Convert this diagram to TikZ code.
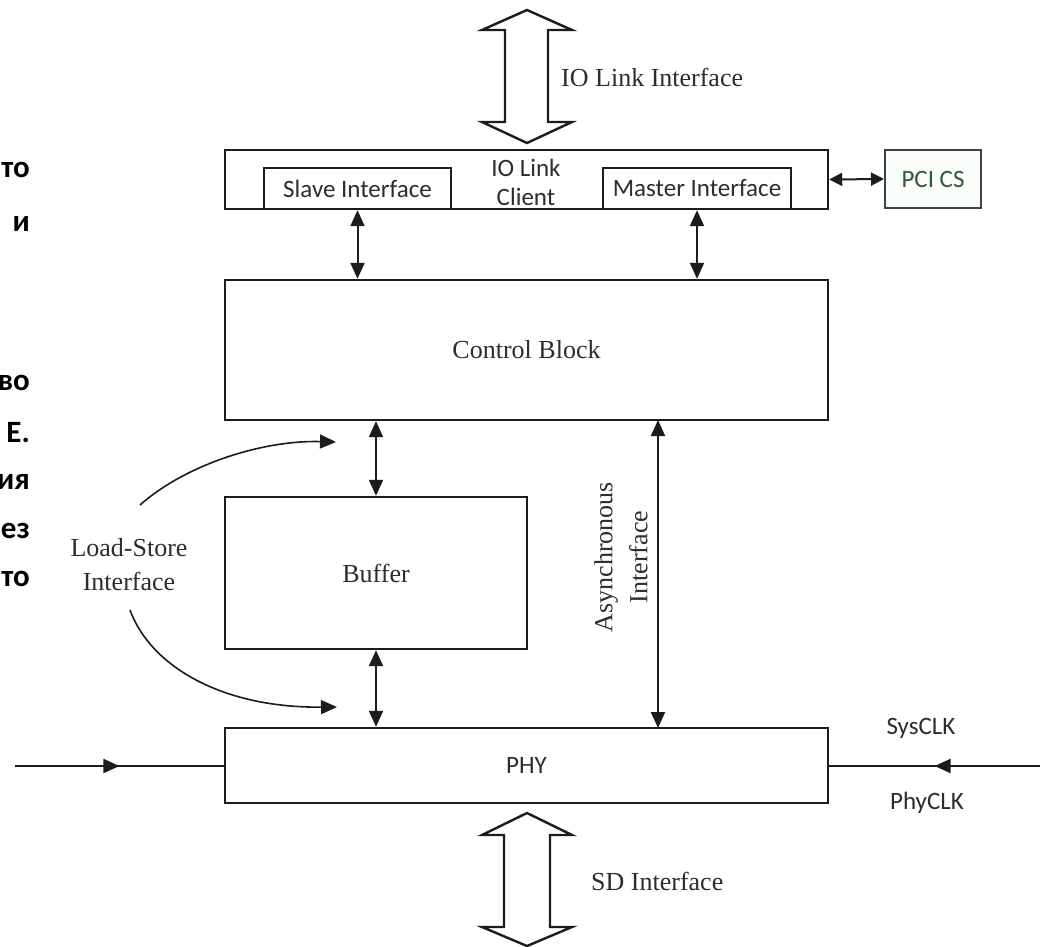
\documentclass[tikz,border=0pt]{standalone}
\usepackage{fontspec}
\setmainfont{Liberation Serif}
\newfontfamily\calfont{Carlito}
\usetikzlibrary{arrows.meta,decorations.markings}
\definecolor{ink}{RGB}{28,28,28}
\definecolor{txt}{RGB}{45,45,45}
\definecolor{pcigreen}{RGB}{50,88,62}
\definecolor{pciframe}{RGB}{60,70,64}
\definecolor{pcifill}{RGB}{250,253,250}
\begin{document}
\begin{tikzpicture}[x=1pt,y=-1pt,
  box/.style={draw=ink, line width=2.4pt, inner sep=0pt},
  serif/.style={text=txt, font=\fontsize{26}{34}\selectfont, inner sep=0pt},
  sans/.style={text=txt, font=\calfont\fontsize{25}{29}\selectfont, inner sep=0pt},
  cyr/.style={font=\calfont\bfseries\fontsize{31}{40}\selectfont, inner sep=0pt, anchor=base east, text=black},
  dbl/.style={line width=2pt, draw=ink, {Triangle[length=16pt,width=14pt]}-{Triangle[length=16pt,width=14pt]}},
  sdbl/.style={line width=2pt, draw=ink, {Triangle[length=13pt,width=13pt]}-{Triangle[length=13pt,width=13pt]}},
  curvarr/.style={line width=1.6pt, draw=ink, -{Triangle[length=16pt,width=14pt]}},
  hollow/.style={draw=ink, line width=2.4pt, fill=white, line join=miter},
  midarr/.style={line width=2pt, draw=ink, decoration={markings, mark=at position #1 with {\arrow{Triangle[length=16pt,width=14pt]}}}, postaction={decorate}}
]
\useasboundingbox (0,0) rectangle (1044,947);
\clip (0,0) rectangle (1044,947);
\fill[white] (0,0) rectangle (1044,947);

% Cyrillic text fragments at the left edge (cropped in the source)
\node[cyr] (c1) at (30,178) {то};
\node[cyr] (c2) at (30,231) {и};
\node[cyr] (c3) at (30,390) {во};
\node[cyr] (c4) at (30,442) {Е.};
\node[cyr] (c5) at (30,489) {ия};
\node[cyr] (c6) at (30,538) {ез};
\node[cyr] (c7) at (30,586) {то};

% boxes
\node[box, minimum width=603pt, minimum height=59pt] (client) at (526.5,179.5) {};
\node[box, sans, minimum width=187pt, minimum height=41pt] (slave) at (357.5,188.5) {Slave Interface};
\node[box, sans, minimum width=188pt, minimum height=41pt] (master) at (697,188.5) {Master Interface};
\node[sans, align=center] (clienttext) at (526,182) {IO Link\\Client};
\node[draw=pciframe, line width=2pt, fill=pcifill, text=pcigreen, font=\calfont\fontsize{25}{29}\selectfont, inner sep=0pt, minimum width=96pt, minimum height=58pt] (pci) at (933,179) {PCI CS};
\node[box, serif, minimum width=603pt, minimum height=140pt] (cb) at (526.5,350) {Control Block};
\node[box, serif, minimum width=302pt, minimum height=152pt] (buffer) at (376,573) {Buffer};
\node[box, sans, minimum width=603pt, minimum height=75pt] (phy) at (526.5,765.5) {PHY};

% hollow double arrows
\draw[hollow] (527,10) -- (572,30) -- (548,30) -- (548,122) -- (572,122) -- (527,143) -- (482,122) -- (505,122) -- (505,30) -- (482,30) -- cycle;
\node[serif, anchor=base west] (iolabel) at (561,87) {IO Link Interface};
\draw[hollow] (527,813) -- (572,835) -- (550,835) -- (550,927) -- (572,927) -- (527,946) -- (482,927) -- (504,927) -- (504,835) -- (482,835) -- cycle;
\node[serif, anchor=base west] (sdlabel) at (591,890) {SD Interface};

% connectors
\draw[dbl] (slave.south) -- (slave.south |- cb.north);
\draw[dbl] (master.south) -- (master.south |- cb.north);
\draw[sdbl] (client.east) -- (pci.west);
\draw[dbl] (buffer.north) -- (buffer.north |- cb.south);
\draw[dbl] (buffer.south) -- (buffer.south |- phy.north);
\coordinate (aT) at (658,420);
\coordinate (aB) at (658,728);
\draw[dbl] (aT) -- (aB);
\node[serif, rotate=90, align=center, font=\fontsize{26}{35}\selectfont] (async) at (621,557) {Asynchronous\\Interface};

% load-store
\node[serif, align=center] (ls) at (129,565) {Load-Store\\Interface};
\coordinate (lsT) at (336,442);
\coordinate (lsB) at (337,707);
\draw[curvarr] (140,505) .. controls (185,465) and (262,440) .. (lsT);
\draw[curvarr] (130,610) .. controls (150,665) and (220,708) .. (lsB);

% clock inputs
\coordinate (lin) at (15,766);
\coordinate (rin) at (1040,766);
\draw[midarr=0.5] (lin) -- (lin -| phy.west);
\draw[midarr=0.5] (rin) -- (rin -| phy.east);
\node[sans] (sys) at (921,728) {SysCLK};
\node[sans] (phyclk) at (927,803) {PhyCLK};
\end{tikzpicture}
\end{document}
